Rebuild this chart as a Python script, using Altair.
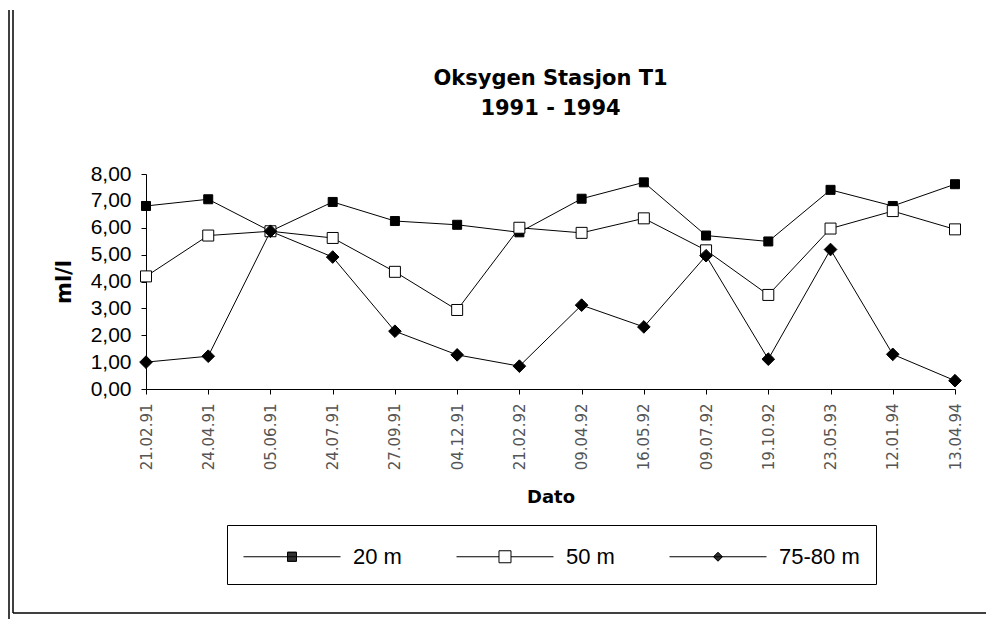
import altair as alt
import pandas as pd

dates = ["21.02.91", "24.04.91", "05.06.91", "24.07.91", "27.09.91", "04.12.91",
         "21.02.92", "09.04.92", "16.05.92", "09.07.92", "19.10.92", "23.05.93",
         "12.01.94", "13.04.94"]
series = ["20 m", "50 m", "75-80 m"]
v20 = [6.81, 7.06, 5.87, 6.96, 6.25, 6.11, 5.83, 7.08, 7.69, 5.71, 5.49, 7.41, 6.81, 7.62]
v50 = [4.19, 5.71, 5.87, 5.62, 4.36, 2.94, 6.00, 5.81, 6.35, 5.16, 3.50, 5.97, 6.62, 5.94]
v75 = [1.00, 1.22, 5.87, 4.91, 2.15, 1.27, 0.85, 3.12, 2.31, 4.96, 1.11, 5.19, 1.29, 0.31]

rows = []
for s, vals in zip(series, [v20, v50, v75]):
    for d, v in zip(dates, vals):
        rows.append({"Dato": d, "ml/l": v, "Serie": s, "Dybde": s})
df = pd.DataFrame(rows)

W, H = 809, 215

x_enc = alt.X("Dato:N", sort=dates,
              scale=alt.Scale(type="point", padding=0),
              axis=alt.Axis(title="Dato", labelAngle=-90, labelFont="DejaVu Sans",
                            labelFontSize=15, labelColor="#555", labelPadding=9,
                            tickSize=5, tickColor="black", domainColor="black",
                            titleFont="DejaVu Sans", titleFontSize=18, titleFontWeight="bold",
                            titlePadding=19, titleColor="black"))
y_enc = alt.Y("ml/l:Q", scale=alt.Scale(domain=[0, 8]),
              axis=alt.Axis(title="ml/l", values=[0, 1, 2, 3, 4, 5, 6, 7, 8], format=".2f",
                            labelExpr="replace(datum.label, '.', ',')",
                            labelFont="Liberation Sans", labelFontSize=21, labelColor="black",
                            labelPadding=10, tickSize=5, tickColor="black", domainColor="black",
                            grid=False, titleFont="DejaVu Sans", titleFontSize=21,
                            titleFontWeight="bold", titlePadding=16, titleColor="black"))

base = alt.Chart(df).encode(x=x_enc, y=y_enc)

lines = base.mark_line(color="black", strokeWidth=1).encode(detail="Serie:N")

# legend glyphs: a line with the marker in its middle; units of 15 px (symbol size 900)
U = 15.0
L = 97 / U              # line length in units
c = -1 + L / 2          # marker centre (entry starts at -1)
step = 1 / U
a = 4.5 / U
hatch_sq = "".join(f"M{c - a:.3f},{-a + k * step:.3f}H{c + a:.3f}" for k in range(int(round(2 * a / step)) + 1))
p20 = f"M-1,0H{L - 1:.3f}M{c - a:.3f},{-a:.3f}H{c + a:.3f}V{a:.3f}H{c - a:.3f}Z" + hatch_sq
b = 6 / U
p50 = (f"M-1,0H{c - b:.3f}M{c + b:.3f},0H{L - 1:.3f}"
       f"M{c - b:.3f},{-b:.3f}H{c + b:.3f}V{b:.3f}H{c - b:.3f}Z")
d = 4.5 / U
hatch_di = "".join(
    f"M{c - (d - abs(-d + k * step)):.3f},{-d + k * step:.3f}H{c + (d - abs(-d + k * step)):.3f}"
    for k in range(int(round(2 * d / step)) + 1))
p75 = f"M-1,0H{L - 1:.3f}M{c:.3f},{-d:.3f}L{c + d:.3f},0L{c:.3f},{d:.3f}L{c - d:.3f},0Z" + hatch_di

legend = alt.Legend(
    title=None, orient="none", legendX=81, legendY=351, direction="horizontal",
    strokeColor="black", padding=16, columnPadding=52,
    labelFont="Liberation Sans", labelFontSize=22, labelColor="black", labelOffset=79,
    symbolSize=900, symbolStrokeColor="black", symbolStrokeWidth=1, symbolOpacity=1,
)

points = base.mark_point(strokeWidth=1, stroke="black", opacity=1).encode(
    shape=alt.Shape("Dybde:N", scale=alt.Scale(domain=series, range=["square", "square", "diamond"]),
                    legend=None),
    fill=alt.Fill("Dybde:N", scale=alt.Scale(domain=series, range=["black", "white", "black"]),
                  legend=None),
    size=alt.Size("Dybde:N", scale=alt.Scale(domain=series, range=[81, 160, 70]), legend=None),
)

# carries the legend only; its own marks are transparent
legend_layer = base.mark_point(filled=False).encode(
    shape=alt.Shape("Serie:N", scale=alt.Scale(domain=series, range=[p20, p50, p75]),
                    legend=legend),
    stroke=alt.value("transparent"),
    fill=alt.value("transparent"),
)

frame = alt.Chart(pd.DataFrame({"k": [0]})).mark_rule(color="black", strokeWidth=1.5)
left1 = frame.encode(x=alt.value(-137), y=alt.value(-164), y2=alt.value(445))
left2 = frame.encode(x=alt.value(-133), y=alt.value(-164), y2=alt.value(439))
bottom = frame.encode(x=alt.value(-133), x2=alt.value(840), y=alt.value(439))

chart = alt.layer(legend_layer, lines, points, left1, left2, bottom).resolve_scale(
    shape="independent"
).properties(
    width=W, height=H,
    title=alt.TitleParams(["Oksygen Stasjon T1", "1991 - 1994"], font="DejaVu Sans",
                          fontSize=21, fontWeight="bold", color="black", lineHeight=30,
                          anchor="middle", frame="group", offset=-110),
    autosize=alt.AutoSizeParams(type="none"),
    padding={"left": 138, "top": 166, "right": 33, "bottom": 236},
).configure_view(stroke=None)

chart.save("out.html", embed_options={"renderer": "svg", "actions": False})
